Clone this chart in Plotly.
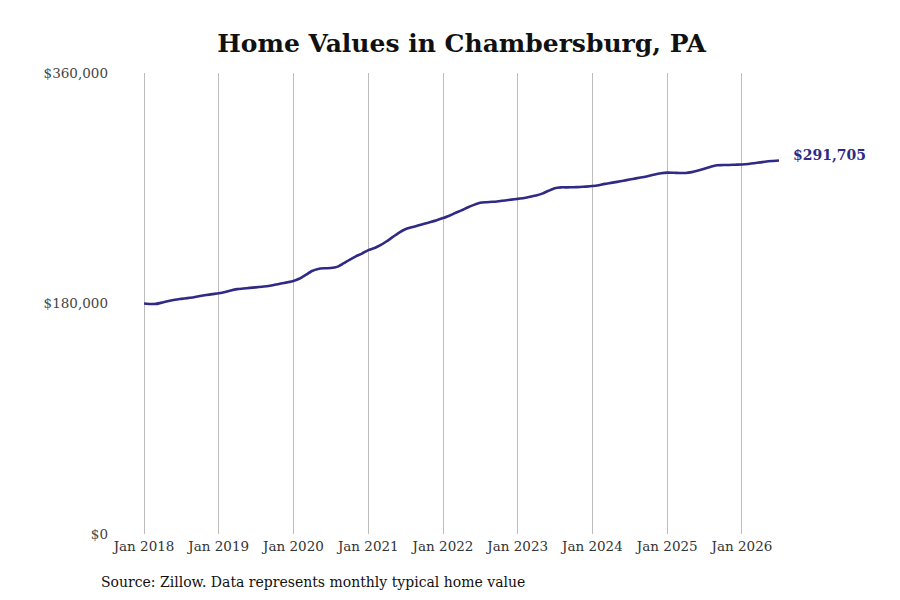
import plotly.graph_objects as go
import pandas as pd

dates = pd.date_range("2018-01-01", "2026-07-01", freq="MS").strftime("%Y-%m-%d").tolist()

values = [
    # 2018
    180000, 179600, 179700, 180800, 182000, 183000, 183600, 184200, 184900, 185800, 186600, 187300,
    # 2019
    188000, 189000, 190200, 191200, 191700, 192200, 192600, 193100, 193600, 194600, 195600, 196500,
    # 2020
    197600, 199500, 202300, 205400, 207000, 207500, 207700, 208600, 211300, 214100, 216800, 219000,
    # 2021
    221700, 223300, 225500, 228600, 232000, 235400, 238000, 239500, 240900, 242300, 243600, 245000,
    # 2022
    246700, 248500, 250600, 252700, 255000, 257000, 258600, 259100, 259400, 259900, 260500, 261100,
    # 2023
    261700, 262400, 263300, 264300, 265800, 268000, 270000, 270700, 270700, 270800, 271000, 271300,
    # 2024
    271700, 272400, 273400, 274200, 275000, 275900, 276800, 277700, 278600, 279600, 280800, 281700,
    # 2025
    282200, 282100, 281900, 281900, 282600, 283800, 285200, 286800, 288000, 288100, 288200, 288400,
    # 2026
    288600, 289000, 289500, 290200, 290900, 291300, 291705,
]

tick_dates = [f"{y}-01-01" for y in range(2018, 2027)]
tick_labels = [f"Jan {y}" for y in range(2018, 2027)]
y_ticks = [0, 180000, 360000]
y_labels = ["$0", "$180,000", "$360,000"]

title_text = "Home Values in Chambersburg, PA"
source_text = "Source: Zillow. Data represents monthly typical home value"
end_label = "$291,705"

line_color = "#2f2a85"

fig = go.Figure()
fig.add_trace(go.Scatter(
    x=dates, y=values, mode="lines",
    line=dict(color=line_color, width=2.6, shape="spline", smoothing=0.6),
    hoverinfo="skip", showlegend=False,
))

fig.add_annotation(
    x=dates[-1], y=values[-1], text=f"<b>{end_label}</b>",
    showarrow=False, xanchor="left", yanchor="middle", xshift=12, yshift=5,
    font=dict(family="DejaVu Serif", size=14, color=line_color),
)

fig.add_annotation(
    xref="paper", yref="paper", x=-0.024, y=-0.104, xanchor="left", yanchor="middle",
    text=source_text, showarrow=False,
    font=dict(family="DejaVu Serif", size=14, color="#111111"),
)

fig.update_layout(
    width=900, height=600,
    margin=dict(l=107, r=128, t=65, b=74),
    paper_bgcolor="white", plot_bgcolor="white",
    title=dict(text=f"<b>{title_text}</b>", x=0.504, xanchor="center", y=0.942, yanchor="middle",
               font=dict(family="DejaVu Serif", size=25, color="#111111")),
    font=dict(family="DejaVu Serif", size=13, color="#333333"),
    xaxis=dict(
        range=["2017-08-12", "2026-07-06"],
        tickvals=tick_dates, ticktext=tick_labels,
        showgrid=True, gridcolor="#bdbdbd", gridwidth=1,
        showline=False, zeroline=False, ticks="",
        tickfont=dict(family="DejaVu Serif", size=13.5, color="#333333"),
        ticklabelstandoff=2,
    ),
    yaxis=dict(
        range=[0, 360000],
        tickvals=y_ticks, ticktext=y_labels,
        showgrid=False, showline=False, zeroline=False, ticks="",
        tickfont=dict(family="DejaVu Serif", size=13.5, color="#444444"),
        ticklabelstandoff=6,
    ),
)

fig.write_html("out.html")
